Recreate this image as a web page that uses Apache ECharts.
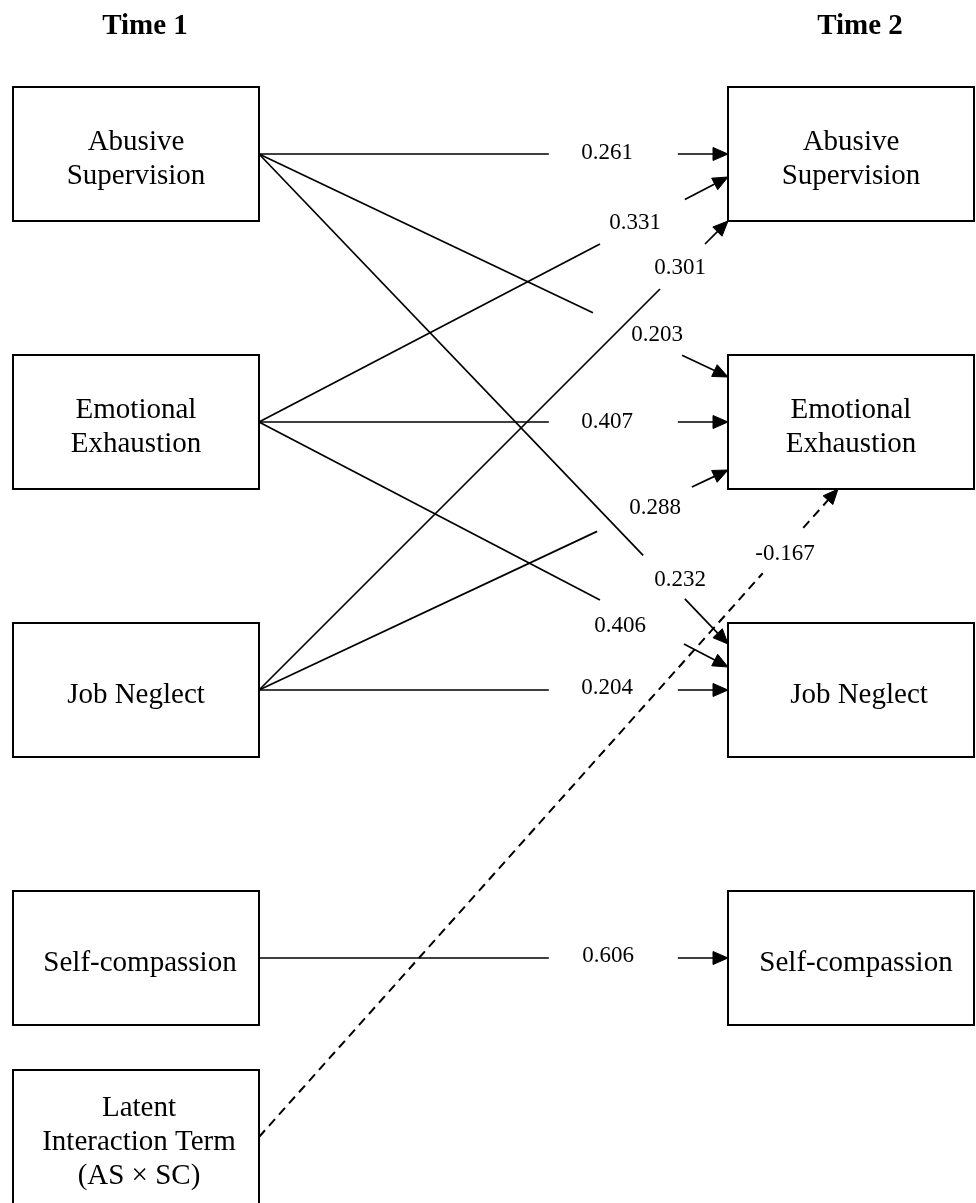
<!DOCTYPE html>
<html>
<head>
<meta charset="utf-8">
<title>Path model, Time 1 to Time 2</title>
<script src="https://cdn.jsdelivr.net/npm/echarts@6/dist/echarts.min.js"></script>
<style>
  html, body { margin: 0; padding: 0; background: #fff; }
  #main { width: 976px; height: 1203px; }
</style>
</head>
<body>
<div id="main"></div>
<script>
// variables at each wave
const timeLabels = ['Time 1', 'Time 2']
const time1Vars = ['Abusive\nSupervision', 'Emotional\nExhaustion', 'Job Neglect', 'Self-compassion', 'Latent\nInteraction Term\n(AS × SC)']
const time2Vars = ['Abusive\nSupervision', 'Emotional\nExhaustion', 'Job Neglect', 'Self-compassion']

// paths: time 1 variable -> time 2 variable, with coefficient
const pathFrom = [0, 0, 0, 1, 1, 1, 2, 2, 2, 3, 4]
const pathTo = [0, 1, 2, 0, 1, 2, 0, 1, 2, 3, 1]
const coefficients = [0.261, 0.203, 0.232, 0.331, 0.407, 0.406, 0.301, 0.288, 0.204, 0.606, -0.167]
const interactionIndex = 4 // drawn dashed

// layout (page pixels, 976 x 1203)
const leftX = [13, 259]
const rightX = [728, 974]
const rowTop = [87, 355, 623, 891, 1070]
const rowH = 134
const headerX = [145, 860]
const headerY = 27
// where each arrow lands, offset from the middle of the left edge of the target box
const pathEnd = [[0, 0], [0, -45], [0, -46], [0, 23], [0, 0], [0, -23], [0, 67], [0, 48], [0, 0], [0, 0], [110, 67]]
// gap in the line (fraction along the path) that leaves room for the label
const pathGap = [[0.618, 0.893], [0.712, 0.902], [0.819, 0.908], [0.727, 0.908], [0.618, 0.893], [0.727, 0.906],
  [0.855, 0.951], [0.721, 0.923], [0.618, 0.893], [0.618, 0.893], [0.870, 0.940]]
const labelPos = [[607, 153], [657, 335], [680, 580], [635, 223], [607, 422], [620, 626],
  [680, 268], [655, 508], [607, 688], [608, 956], [785, 554]]
// small nudges of box text from box centre
const textDx = [[0, 0, 0, 4, 3], [0, 0, 8, 5]]

const serif = '"Liberation Serif", "Times New Roman", serif'

const chart = echarts.init(document.getElementById('main'), null, { renderer: 'canvas' })

const boxData = []
time1Vars.forEach((n, i) => boxData.push([0, i]))
time2Vars.forEach((n, i) => boxData.push([1, i]))

function rowMid (r) {
  return rowTop[r] + rowH / 2
}

chart.setOption({
  backgroundColor: '#fff',
  animation: false,
  grid: { left: 0, right: 0, top: 0, bottom: 0 },
  xAxis: { type: 'value', min: 0, max: 976, show: false },
  yAxis: { type: 'value', min: 0, max: 1203, inverse: true, show: false },
  series: [
    {
      // headers
      type: 'custom',
      silent: true,
      data: timeLabels.map((t, i) => [i, 0]),
      renderItem: (params, api) => {
        const i = api.value(0)
        const p = api.coord([headerX[i], headerY])
        return {
          type: 'text',
          style: {
            text: timeLabels[i], x: p[0], y: p[1], align: 'center', verticalAlign: 'middle',
            fontFamily: serif, fontSize: 29, fontWeight: 'bold', fill: '#000'
          }
        }
      }
    },
    {
      // boxes
      type: 'custom',
      silent: true,
      clip: false,
      data: boxData,
      renderItem: (params, api) => {
        const side = api.value(0)
        const row = api.value(1)
        const xs = side === 0 ? leftX : rightX
        const names = side === 0 ? time1Vars : time2Vars
        const p0 = api.coord([xs[0], rowTop[row]])
        const p1 = api.coord([xs[1], rowTop[row] + rowH])
        return {
          type: 'group',
          children: [
            {
              type: 'rect',
              shape: { x: p0[0], y: p0[1], width: p1[0] - p0[0], height: p1[1] - p0[1] },
              style: { fill: '#fff', stroke: '#000', lineWidth: 2 }
            },
            {
              type: 'text',
              style: {
                text: names[row],
                x: (p0[0] + p1[0]) / 2 + textDx[side][row],
                y: (p0[1] + p1[1]) / 2 + 5,
                align: 'center', verticalAlign: 'middle',
                fontFamily: serif, fontSize: 29, lineHeight: 34, fill: '#000'
              }
            }
          ]
        }
      }
    },
    {
      // paths
      type: 'custom',
      silent: true,
      clip: false,
      data: coefficients.map((c, i) => [i, c]),
      renderItem: (params, api) => {
        const i = api.value(0)
        const from = pathFrom[i]
        const to = pathTo[i]
        const s = api.coord([leftX[1], rowMid(from)])
        const e = api.coord([rightX[0] + pathEnd[i][0], rowMid(to) + pathEnd[i][1]])
        const dx = e[0] - s[0]
        const dy = e[1] - s[1]
        const len = Math.sqrt(dx * dx + dy * dy)
        const ux = dx / len
        const uy = dy / len
        const g1 = [s[0] + dx * pathGap[i][0], s[1] + dy * pathGap[i][0]]
        const g2 = [s[0] + dx * pathGap[i][1], s[1] + dy * pathGap[i][1]]
        const headL = 15
        const headW = 6.5
        const base = [e[0] - ux * headL, e[1] - uy * headL]
        const dashed = from === interactionIndex
        const lineStyle = { stroke: '#000', lineWidth: dashed ? 2 : 1.7, lineDash: dashed ? [9, 6] : null }
        const lp = api.coord(labelPos[i])
        return {
          type: 'group',
          children: [
            { type: 'line', shape: { x1: s[0], y1: s[1], x2: g1[0], y2: g1[1] }, style: lineStyle },
            { type: 'line', shape: { x1: g2[0], y1: g2[1], x2: base[0], y2: base[1] }, style: lineStyle },
            {
              type: 'polygon',
              shape: {
                points: [
                  [e[0], e[1]],
                  [base[0] - uy * headW, base[1] + ux * headW],
                  [base[0] + uy * headW, base[1] - ux * headW]
                ]
              },
              style: { fill: '#000', stroke: '#000', lineWidth: 1 }
            },
            {
              type: 'text',
              style: {
                text: coefficients[i].toFixed(3), x: lp[0], y: lp[1], align: 'center', verticalAlign: 'middle',
                fontFamily: serif, fontSize: 23, fill: '#000'
              }
            }
          ]
        }
      }
    }
  ]
})
</script>
</body>
</html>
